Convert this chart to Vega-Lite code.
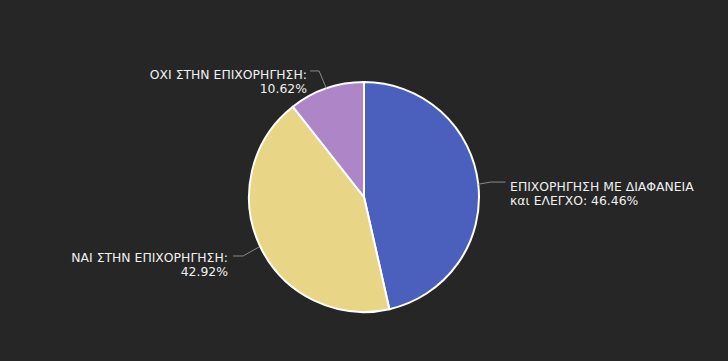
{
  "$schema": "https://vega.github.io/schema/vega-lite/v6.json",
  "width": 728,
  "height": 328,
  "padding": {"top": 33, "left": 0, "right": 0, "bottom": 0},
  "autosize": {"type": "none"},
  "background": "#262626",
  "config": {"view": {"stroke": null}, "font": "DejaVu Sans"},
  "datasets": {
    "slices": [
      {"category": "ΕΠΙΧΟΡΗΓΗΣΗ ΜΕ ΔΙΑΦΑΝΕΙΑ και ΕΛΕΓΧΟ", "value": 46.46, "ord": 1},
      {"category": "ΝΑΙ ΣΤΗΝ ΕΠΙΧΟΡΗΓΗΣΗ", "value": 42.92, "ord": 2},
      {"category": "ΟΧΙ ΣΤΗΝ ΕΠΙΧΟΡΗΓΗΣΗ", "value": 10.62, "ord": 3}
    ],
    "labels": [
      {"lines": ["ΕΠΙΧΟΡΗΓΗΣΗ ΜΕ ΔΙΑΦΑΝΕΙΑ", "και ΕΛΕΓΧΟ: 46.46%"], "lx": 1.27, "ly": 0.086, "side": "left"},
      {"lines": ["ΝΑΙ ΣΤΗΝ ΕΠΙΧΟΡΗΓΗΣΗ:", "42.92%"], "lx": -1.183, "ly": -0.53, "side": "right"},
      {"lines": ["ΟΧΙ ΣΤΗΝ ΕΠΙΧΟΡΗΓΗΣΗ:", "10.62%"], "lx": -0.496, "ly": 1.065, "side": "right"}
    ],
    "connectors": [
      {"slice": "a", "step": 1, "cx": 0.994, "cy": 0.111},
      {"slice": "a", "step": 2, "cx": 1.10, "cy": 0.13},
      {"slice": "a", "step": 3, "cx": 1.23, "cy": 0.13},
      {"slice": "b", "step": 1, "cx": -0.913, "cy": -0.435},
      {"slice": "b", "step": 2, "cx": -1.052, "cy": -0.513},
      {"slice": "b", "step": 3, "cx": -1.139, "cy": -0.513},
      {"slice": "c", "step": 1, "cx": -0.327, "cy": 0.945},
      {"slice": "c", "step": 2, "cx": -0.391, "cy": 1.096},
      {"slice": "c", "step": 3, "cx": -0.470, "cy": 1.096}
    ]
  },
  "layer": [
    {
      "data": {"name": "slices"},
      "mark": {"type": "arc", "outerRadius": 115, "stroke": "#ffffff", "strokeWidth": 2},
      "encoding": {
        "theta": {"field": "value", "type": "quantitative", "stack": true},
        "order": {"field": "ord", "type": "quantitative"},
        "color": {
          "field": "category",
          "type": "nominal",
          "scale": {
            "domain": ["ΕΠΙΧΟΡΗΓΗΣΗ ΜΕ ΔΙΑΦΑΝΕΙΑ και ΕΛΕΓΧΟ", "ΝΑΙ ΣΤΗΝ ΕΠΙΧΟΡΗΓΗΣΗ", "ΟΧΙ ΣΤΗΝ ΕΠΙΧΟΡΗΓΗΣΗ"],
            "range": ["#4a60bc", "#e8d585", "#ae85c6"]
          },
          "legend": null
        }
      }
    },
    {
      "data": {"name": "connectors"},
      "mark": {"type": "line", "stroke": "#8a8a8a", "strokeWidth": 1},
      "encoding": {
        "x": {"field": "cx", "type": "quantitative", "scale": {"domain": [-3.165, 3.165]}, "axis": null},
        "y": {"field": "cy", "type": "quantitative", "scale": {"domain": [-1.426, 1.426]}, "axis": null},
        "detail": {"field": "slice"},
        "order": {"field": "step", "type": "quantitative"}
      }
    },
    {
      "data": {"name": "labels"},
      "transform": [{"filter": "datum.side === 'left'"}],
      "mark": {"type": "text", "align": "left", "baseline": "middle", "fill": "#f0f0f0", "fontSize": 12.4, "lineHeight": 14},
      "encoding": {
        "x": {"field": "lx", "type": "quantitative", "scale": {"domain": [-3.165, 3.165]}, "axis": null},
        "y": {"field": "ly", "type": "quantitative", "scale": {"domain": [-1.426, 1.426]}, "axis": null},
        "text": {"field": "lines"}
      }
    },
    {
      "data": {"name": "labels"},
      "transform": [{"filter": "datum.side === 'right'"}],
      "mark": {"type": "text", "align": "right", "baseline": "middle", "fill": "#f0f0f0", "fontSize": 12.4, "lineHeight": 14},
      "encoding": {
        "x": {"field": "lx", "type": "quantitative", "scale": {"domain": [-3.165, 3.165]}, "axis": null},
        "y": {"field": "ly", "type": "quantitative", "scale": {"domain": [-1.426, 1.426]}, "axis": null},
        "text": {"field": "lines"}
      }
    }
  ]
}
